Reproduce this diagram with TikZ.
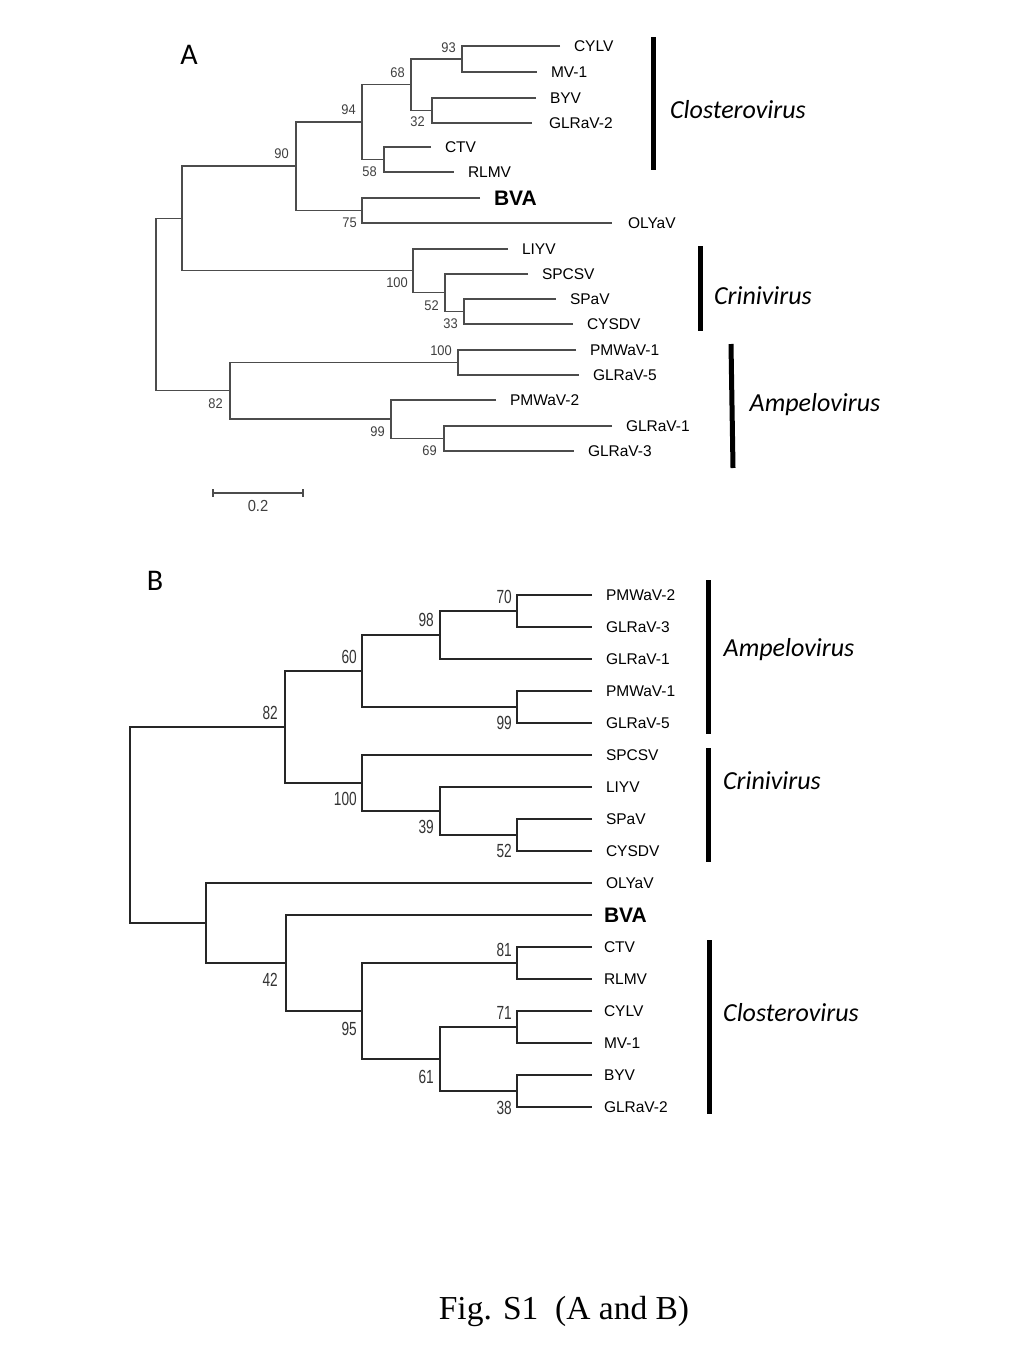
\documentclass[tikz,border=0pt]{standalone}
\usepackage{graphicx}
\usepackage{fontspec}
\setmainfont{Liberation Sans}
\newfontfamily\capfont{Liberation Serif}
\newfontfamily\cladefont{Carlito}
\usetikzlibrary{calc}
\definecolor{treeA}{gray}{0.3}
\definecolor{bsgray}{gray}{0.25}
\newcommand\nb[1]{\scalebox{0.72}[1]{#1}}
\newcommand\na[1]{\scalebox{0.92}[1]{#1}}

\begin{document}
\begin{tikzpicture}[x=1pt, y=-1pt,
  branchA/.style={draw=treeA, line width=1.1pt},
  branchB/.style={draw=black!85, line width=1.1pt},
  leaf/.style={anchor=west, inner sep=0pt, outer xsep=14pt, font=\fontsize{15.5}{15.5}\selectfont},
  bva/.style={leaf, font=\fontsize{21}{21}\selectfont\bfseries},
  bsA/.style={anchor=east, inner sep=0pt, text=bsgray, font=\fontsize{14}{14}\selectfont},
  bsB/.style={anchor=east, inner sep=0pt, text=black!80, font=\fontsize{19}{19}\selectfont},
  clade/.style={line width=5pt},
  cladename/.style={font=\cladefont\itshape\fontsize{26}{26}\selectfont},
  panel/.style={font=\cladefont\fontsize{30}{30}\selectfont}]
\useasboundingbox (0,0) rectangle (1024,1365);
% ---- panel A
\node[panel] (pA) at (189,55) {A};
\node[leaf] (aCYLV) at (560,46) {CYLV};
\node[leaf] (aMV) at (537,72) {MV-1};
\node[leaf] (aBYV) at (536,98) {BYV};
\node[leaf, outer xsep=17pt] (aGLRaVii) at (532,123) {GLRaV-2};
\node[leaf] (aCTV) at (431,147) {CTV};
\node[leaf] (aRLMV) at (454,172) {RLMV};
\node[bva] (aBVA) at (480,198) {BVA};
\node[leaf, outer xsep=16pt] (aOLYaV) at (612,223) {OLYaV};
\node[leaf] (aLIYV) at (508,249) {LIYV};
\node[leaf] (aSPCSV) at (528,274) {SPCSV};
\node[leaf] (aSPaV) at (556,299) {SPaV};
\node[leaf] (aCYSDV) at (573,324) {CYSDV};
\node[leaf] (aPMWaVi) at (576,350) {PMWaV-1};
\node[leaf] (aGLRaVv) at (579,375) {GLRaV-5};
\node[leaf] (aPMWaVii) at (496,400) {PMWaV-2};
\node[leaf] (aGLRaVi) at (612,426) {GLRaV-1};
\node[leaf] (aGLRaViii) at (574,451) {GLRaV-3};
\coordinate (a93) at (462,59);
\coordinate (a32) at (432,110.5);
\coordinate (a68) at (411,84.75);
\coordinate (a58) at (384,159.5);
\coordinate (a94) at (362,122);
\coordinate (a75) at (362,210.5);
\coordinate (a90) at (296,166);
\coordinate (a33) at (464,311.5);
\coordinate (a52) at (445,292.75);
\coordinate (a100c) at (413,270.9);
\coordinate (aC) at (182,218.4);
\coordinate (a100a) at (458,362.5);
\coordinate (a69) at (444,438.5);
\coordinate (a99) at (391,419);
\coordinate (a82) at (230,390.75);
\coordinate (aroot) at (156,304.6);
\draw[branchA] (aCYLV.west) -| (a93) |- (aMV.west);
\draw[branchA] (aBYV.west) -| (a32) |- (aGLRaVii.west);
\draw[branchA] (a93) -| (a68) |- (a32);
\draw[branchA] (aCTV.west) -| (a58) |- (aRLMV.west);
\draw[branchA] (a68) -| (a94) |- (a58);
\draw[branchA] (aBVA.west) -| (a75) |- (aOLYaV.west);
\draw[branchA] (a94) -| (a90) |- (a75);
\draw[branchA] (aSPaV.west) -| (a33) |- (aCYSDV.west);
\draw[branchA] (aSPCSV.west) -| (a52) |- (a33);
\draw[branchA] (aLIYV.west) -| (a100c) |- (a52);
\draw[branchA] (a90) -| (aC) |- (a100c);
\draw[branchA] (aPMWaVi.west) -| (a100a) |- (aGLRaVv.west);
\draw[branchA] (aGLRaVi.west) -| (a69) |- (aGLRaViii.west);
\draw[branchA] (aPMWaVii.west) -| (a99) |- (a69);
\draw[branchA] (a100a) -| (a82) |- (a99);
\draw[branchA] (aC) -| (aroot) |- (a82);
% bootstrap values A
\node[bsA] (la93) at (456,48) {\na{93}};
\node[bsA] (la68) at (405,73) {\na{68}};
\node[bsA] (la94) at (356,110) {\na{94}};
\node[bsA] (la32) at (425,122) {\na{32}};
\node[bsA] (la90) at (289,154) {\na{90}};
\node[bsA] (la58) at (377,172) {\na{58}};
\node[bsA] (la75) at (357,223) {\na{75}};
\node[bsA] (la100c) at (408,283) {\na{100}};
\node[bsA] (la52) at (439,306) {\na{52}};
\node[bsA] (la33) at (458,324) {\na{33}};
\node[bsA] (la100a) at (452,351) {\na{100}};
\node[bsA] (la82) at (223,404) {\na{82}};
\node[bsA] (la99) at (385,432) {\na{99}};
\node[bsA] (la69) at (437,451) {\na{69}};
% scale bar
\coordinate (sbL) at (213,493);
\coordinate (sbR) at (303,493);
\draw[branchA] (sbL) -- (sbR);
\draw[branchA] ([yshift=4pt]sbL) -- ([yshift=-4pt]sbL);
\draw[branchA] ([yshift=4pt]sbR) -- ([yshift=-4pt]sbR);
\node[bsA, anchor=center, font=\fontsize{16}{16}\selectfont] (sbtext) at (258,506) {\na{0.2}};
% clades A
\coordinate (aClosTop) at (653,37);  \coordinate (aClosBot) at (653,170);
\coordinate (aCriniTop) at (700,246); \coordinate (aCriniBot) at (700,331);
\coordinate (aAmpelTop) at (731,344); \coordinate (aAmpelBot) at (733,468);
\draw[clade] (aClosTop) -- (aClosBot);
\draw[clade] (aCriniTop) -- (aCriniBot);
\draw[clade] (aAmpelTop) -- (aAmpelBot);
\node[cladename] (aClosName) at (738,110) {Closterovirus};
\node[cladename] (aCriniName) at (763,296) {Crinivirus};
\node[cladename] (aAmpelName) at (815,405) {Ampelovirus};
% ---- panel B
\node[panel] (pB) at (155,581) {B};
\node[leaf] (bPMWaVii) at (592,595) {PMWaV-2};
\node[leaf] (bGLRaViii) at (592,627) {GLRaV-3};
\node[leaf] (bGLRaVi) at (592,659) {GLRaV-1};
\node[leaf] (bPMWaVi) at (592,691) {PMWaV-1};
\node[leaf] (bGLRaVv) at (592,723) {GLRaV-5};
\node[leaf] (bSPCSV) at (592,755) {SPCSV};
\node[leaf] (bLIYV) at (592,787) {LIYV};
\node[leaf] (bSPaV) at (592,819) {SPaV};
\node[leaf] (bCYSDV) at (592,851) {CYSDV};
\node[leaf] (bOLYaV) at (592,883) {OLYaV};
\node[bva, outer xsep=12pt] (bBVA) at (592,915) {BVA};
\node[leaf, outer xsep=12pt] (bCTV) at (592,947) {CTV};
\node[leaf, outer xsep=12pt] (bRLMV) at (592,979) {RLMV};
\node[leaf, outer xsep=12pt] (bCYLV) at (592,1011) {CYLV};
\node[leaf, outer xsep=12pt] (bMV) at (592,1043) {MV-1};
\node[leaf, outer xsep=12pt] (bBYV) at (592,1075) {BYV};
\node[leaf, outer xsep=12pt] (bGLRaVii) at (592,1107) {GLRaV-2};
\coordinate (b70) at (517,611);
\coordinate (b98) at (440,635);
\coordinate (b99) at (517,707);
\coordinate (b60) at (362,671);
\coordinate (b52) at (517,835);
\coordinate (b39) at (440,811);
\coordinate (b100) at (362,783);
\coordinate (b82) at (285,727);
\coordinate (b81) at (517,963);
\coordinate (b71) at (517,1027);
\coordinate (b38) at (517,1091);
\coordinate (b61) at (440,1059);
\coordinate (b95) at (362,1011);
\coordinate (b42) at (286,963);
\coordinate (bO) at (206,923);
\coordinate (broot) at (130,825);
\draw[branchB] (bPMWaVii.west) -| (b70) |- (bGLRaViii.west);
\draw[branchB] (b70) -| (b98) |- (bGLRaVi.west);
\draw[branchB] (bPMWaVi.west) -| (b99) |- (bGLRaVv.west);
\draw[branchB] (b98) -| (b60) |- (b99);
\draw[branchB] (bSPaV.west) -| (b52) |- (bCYSDV.west);
\draw[branchB] (bLIYV.west) -| (b39) |- (b52);
\draw[branchB] (bSPCSV.west) -| (b100) |- (b39);
\draw[branchB] (b60) -| (b82) |- (b100);
\draw[branchB] (bCTV.west) -| (b81) |- (bRLMV.west);
\draw[branchB] (bCYLV.west) -| (b71) |- (bMV.west);
\draw[branchB] (bBYV.west) -| (b38) |- (bGLRaVii.west);
\draw[branchB] (b71) -| (b61) |- (b38);
\draw[branchB] (b81) -| (b95) |- (b61);
\draw[branchB] (bBVA.west) -| (b42) |- (b95);
\draw[branchB] (bOLYaV.west) -| (bO) |- (b42);
\draw[branchB] (b82) -| (broot) |- (bO);
% bootstrap values B
\node[bsB] (lb70) at (512,597) {\nb{70}};
\node[bsB] (lb98) at (434,620) {\nb{98}};
\node[bsB] (lb60) at (357,657) {\nb{60}};
\node[bsB] (lb99) at (512,723) {\nb{99}};
\node[bsB] (lb82) at (278,713) {\nb{82}};
\node[bsB] (lb100) at (357,799) {\nb{100}};
\node[bsB] (lb39) at (434,827) {\nb{39}};
\node[bsB] (lb52) at (512,851) {\nb{52}};
\node[bsB] (lb81) at (512,950) {\nb{81}};
\node[bsB] (lb42) at (278,980) {\nb{42}};
\node[bsB] (lb71) at (512,1013) {\nb{71}};
\node[bsB] (lb95) at (357,1029) {\nb{95}};
\node[bsB] (lb61) at (434,1077) {\nb{61}};
\node[bsB] (lb38) at (512,1108) {\nb{38}};
% clades B
\coordinate (bAmpelTop) at (708,580); \coordinate (bAmpelBot) at (708,734);
\coordinate (bCriniTop) at (708,748); \coordinate (bCriniBot) at (708,862);
\coordinate (bClosTop) at (709,940);  \coordinate (bClosBot) at (709,1114);
\draw[clade] (bAmpelTop) -- (bAmpelBot);
\draw[clade] (bCriniTop) -- (bCriniBot);
\draw[clade] (bClosTop) -- (bClosBot);
\node[cladename] (bAmpelName) at (789,650) {Ampelovirus};
\node[cladename] (bCriniName) at (772,781) {Crinivirus};
\node[cladename] (bClosName) at (791,1013) {Closterovirus};
% caption
\node[font=\capfont\fontsize{33.5}{33.5}\selectfont] (caption) at (564,1311) {Fig. S1\ \ (A and B)};
\end{tikzpicture}
\end{document}
